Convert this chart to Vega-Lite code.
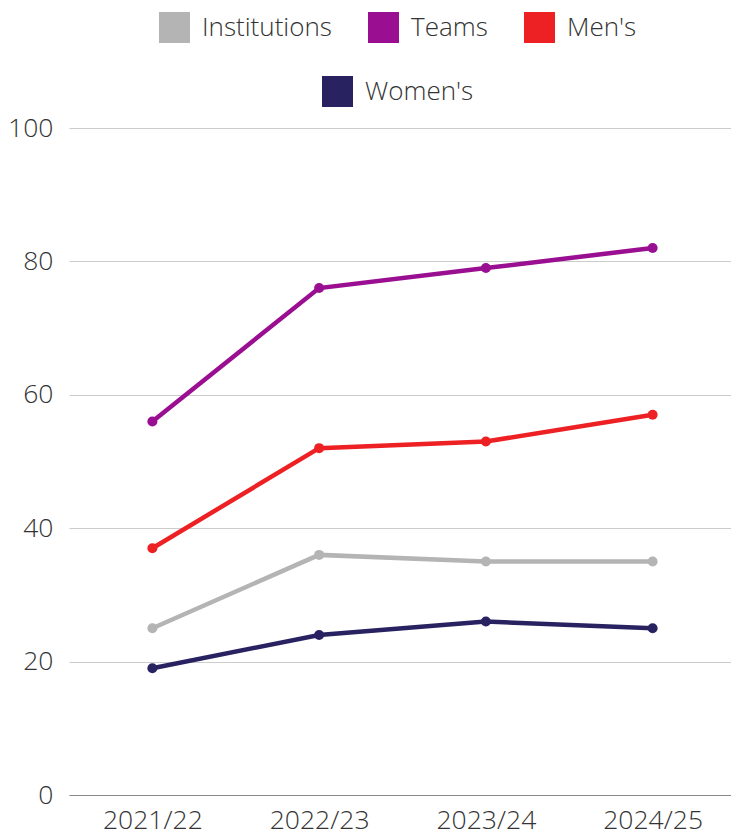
{
  "$schema": "https://vega.github.io/schema/vega-lite/v6.json",
  "width": 667,
  "height": 667,
  "autosize": {"type": "none"},
  "padding": {"left": 69, "top": 128, "right": 0, "bottom": 37},
  "background": "white",
  "config": {
    "view": {"stroke": null},
    "font": "Open Sans",
    "axis": {"labelFont": "Open Sans", "labelFontWeight": 300, "labelFontSize": 26.5, "labelColor": "#333333", "title": null},
    "legend": {"labelFont": "Open Sans", "labelFontWeight": 300, "labelFontSize": 26, "labelColor": "#333333"}
  },
  "data": {
    "values": [
      {"year": "2021/22", "series": "Institutions", "value": 25},
      {"year": "2022/23", "series": "Institutions", "value": 36},
      {"year": "2023/24", "series": "Institutions", "value": 35},
      {"year": "2024/25", "series": "Institutions", "value": 35},
      {"year": "2021/22", "series": "Teams", "value": 56},
      {"year": "2022/23", "series": "Teams", "value": 76},
      {"year": "2023/24", "series": "Teams", "value": 79},
      {"year": "2024/25", "series": "Teams", "value": 82},
      {"year": "2021/22", "series": "Men's", "value": 37},
      {"year": "2022/23", "series": "Men's", "value": 52},
      {"year": "2023/24", "series": "Men's", "value": 53},
      {"year": "2024/25", "series": "Men's", "value": 57},
      {"year": "2021/22", "series": "Women's", "value": 19},
      {"year": "2022/23", "series": "Women's", "value": 24},
      {"year": "2023/24", "series": "Women's", "value": 26},
      {"year": "2024/25", "series": "Women's", "value": 25}
    ]
  },
  "encoding": {
    "x": {
      "field": "year", "type": "ordinal", "sort": null,
      "scale": {"type": "point", "padding": 0.5},
      "axis": {"labelAngle": 0, "ticks": false, "grid": false, "domain": true, "domainColor": "#888888", "domainWidth": 1, "labelPadding": 12}
    },
    "y": {
      "field": "value", "type": "quantitative",
      "scale": {"domain": [0, 100]},
      "axis": {"values": [0, 20, 40, 60, 80, 100], "ticks": false, "domain": false, "grid": true, "gridColor": "#cccccc", "gridWidth": 1, "labelPadding": 16}
    }
  },
  "layer": [
    {
      "mark": {"type": "line", "strokeWidth": 4.5},
      "encoding": {
        "color": {
          "field": "series", "type": "nominal",
          "scale": {"domain": ["Institutions", "Teams", "Men's", "Women's"], "range": ["#b4b4b4", "#9a0e91", "#ed2024", "#282261"]},
          "legend": {
            "values": ["Institutions", "Teams", "Men's"],
            "orient": "none", "direction": "horizontal", "legendX": 90, "legendY": -116,
            "title": null, "symbolType": "square", "symbolSize": 961, "symbolStrokeWidth": 0,
            "labelOffset": 12, "columnPadding": 36,
            "encode": {"symbols": {"update": {"fill": {"scale": "color", "field": "value"}, "strokeWidth": {"value": 0}, "opacity": {"value": 1}}}}
          }
        }
      }
    },
    {
      "mark": {"type": "point", "filled": true, "size": 100, "opacity": 1},
      "encoding": {
        "fill": {
          "field": "series", "type": "nominal",
          "scale": {"domain": ["Women's", "Men's", "Teams", "Institutions"], "range": ["#282261", "#ed2024", "#9a0e91", "#b4b4b4"]},
          "legend": {
            "values": ["Women's"],
            "orient": "none", "direction": "horizontal", "legendX": 253, "legendY": -52,
            "title": null, "symbolType": "square", "symbolSize": 961, "symbolStrokeWidth": 0,
            "labelOffset": 12
          }
        }
      }
    }
  ]
}
